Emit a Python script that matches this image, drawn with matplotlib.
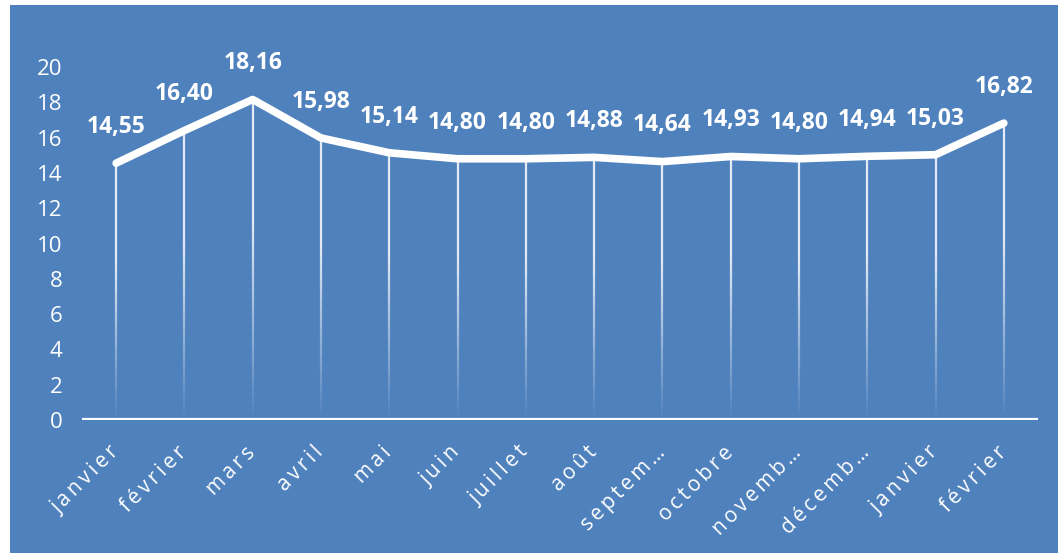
import matplotlib
matplotlib.use("Agg")
import matplotlib.pyplot as plt
import matplotlib.transforms as mtransforms
import numpy as np
from matplotlib.collections import LineCollection
from matplotlib.patches import Rectangle

months = ["janvier", "février", "mars", "avril", "mai", "juin", "juillet", "août",
          "septem…", "octobre", "novemb…", "décemb…", "janvier", "février"]
values = [14.55, 16.40, 18.16, 15.98, 15.14, 14.80, 14.80, 14.88, 14.64, 14.93,
          14.80, 14.94, 15.03, 16.82]
labels = ["14,55", "16,40", "18,16", "15,98", "15,14", "14,80", "14,80", "14,88",
          "14,64", "14,93", "14,80", "14,94", "15,03", "16,82"]
yticks = [0, 2, 4, 6, 8, 10, 12, 14, 16, 18, 20]

BLUE = "#4F81BD"
W, H = 1058, 553
fig = plt.figure(figsize=(W / 100, H / 100), dpi=100, facecolor="white")
fig.patches.append(Rectangle((10 / W, 0), 1 - 10 / W, 1 - 5 / H, transform=fig.transFigure,
                             facecolor=BLUE, edgecolor="none", zorder=-10))

ax = fig.add_axes([82 / W, (H - 420) / H, (1038 - 82) / W, (420 - 67) / H])
ax.set_facecolor("none")
x = np.arange(len(values))
ax.set_xlim(-0.5, len(values) - 0.5)
ax.set_ylim(0, 20)

# drop lines with fading gradient
segs, cols = [], []
n = 40
for xi, v in zip(x, values):
    ys = np.linspace(0, v, n + 1)
    for k in range(n):
        segs.append([(xi, ys[k]), (xi, ys[k + 1])])
        frac = (k + 0.5) / n
        a = min(1.0, frac * 1.6) * 0.85
        cols.append((1, 1, 1, a))
ax.add_collection(LineCollection(segs, colors=cols, linewidths=1.6, zorder=2))

ax.plot(x, values, color="white", lw=5.5, solid_joinstyle="round",
        solid_capstyle="round", zorder=3)

for xi, v, t in zip(x, values, labels):
    ax.annotate(t, (xi, v), xytext=(0, 26), textcoords="offset points",
                ha="center", va="center", color="white", fontsize=16.5,
                fontweight="bold", family="Open Sans")

ax.axhline(0, color="white", lw=3, zorder=4)
for s in ax.spines.values():
    s.set_visible(False)
ax.set_yticks(yticks)
ax.set_yticklabels([str(t) for t in yticks], color="white", fontsize=16, family="Open Sans")
ax.tick_params(axis="y", length=0, pad=14)
ax.set_xticks(x)
spaced = ["\u2009".join(m) for m in months]
ax.set_xticklabels(spaced, rotation=45, ha="right", va="top", rotation_mode="anchor",
                   color="white", fontsize=15, family=["Open Sans", "DejaVu Sans"])
ax.tick_params(axis="x", length=0, pad=16)
shift = mtransforms.ScaledTranslation(-8 / 100, 0, fig.dpi_scale_trans)
for lbl in ax.get_xticklabels():
    lbl.set_transform(lbl.get_transform() + shift)

fig.savefig("out.png", dpi=100, facecolor="white")
